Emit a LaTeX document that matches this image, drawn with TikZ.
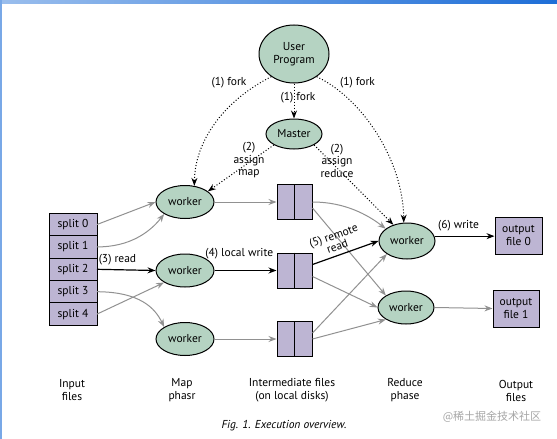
\documentclass[tikz,border=0pt]{standalone}
\usepackage{fontspec}
\setmainfont{PT Sans}
\newfontfamily\cjkfont{Noto Sans CJK SC}
\usetikzlibrary{shapes.geometric,positioning,arrows.meta}

\definecolor{procgreen}{RGB}{181,211,194}
\definecolor{filepurple}{RGB}{189,181,211}
\definecolor{flowgray}{RGB}{145,145,145}
\definecolor{winblue}{RGB}{30,110,215}

\tikzset{
  proc/.style={ellipse, draw, line width=1pt, fill=procgreen, inner sep=0pt, align=center},
  splitbox/.style={draw, line width=1pt, fill=filepurple, minimum width=48pt, minimum height=22.4pt, inner sep=0pt, outer sep=0pt},
  diskbox/.style={draw, line width=1pt, fill=filepurple, minimum width=35pt, minimum height=35pt, inner sep=0pt},
  outbox/.style={draw, line width=1pt, fill=filepurple, align=center, inner sep=0pt},
  lbl/.style={align=center, inner sep=0pt},
  flow/.style={-{Stealth[length=8pt,width=6pt]}, line width=1pt, flowgray},
  ctrl/.style={-{Stealth[length=8pt,width=6pt]}, line width=1.2pt, black},
  fork/.style={-{Stealth[length=8pt,width=6pt]}, line width=1pt, dotted},
}

\begin{document}
\begin{tikzpicture}[x=1pt, y=-1pt, font=\fontsize{11.5}{13}\selectfont]
  \useasboundingbox (0,0) rectangle (557,439);
  \fill[white] (0,0) rectangle (557,439);
  \shade[left color=winblue!45, right color=winblue] (0,0) rectangle (557,3);
  \fill[winblue!60] (0,0) rectangle (2,439);

  % control
  \node[proc, minimum width=70pt, minimum height=58pt] (user) at (294,54) {User\\Program};
  \node[proc, minimum width=56pt, minimum height=30pt] (master) at (294,134) {Master};

  % input splits
  \node[splitbox] (s0) at (73,224.5) {split 0};
  \node[splitbox, below=0pt of s0] (s1) {split 1};
  \node[splitbox, below=0pt of s1] (s2) {split 2};
  \node[splitbox, below=0pt of s2] (s3) {split 3};
  \node[splitbox, below=0pt of s3] (s4) {split 4};

  % map workers
  \node[proc, minimum width=58pt, minimum height=33pt] (map1) at (185,202) {worker};
  \node[proc, minimum width=58pt, minimum height=33pt] (map2) at (185,270.5) {worker};
  \node[proc, minimum width=58pt, minimum height=33pt] (map3) at (185,339) {worker};

  % intermediate files
  \node[diskbox] (d1) at (294.5,202) {};
  \node[diskbox] (d2) at (294.5,270.5) {};
  \node[diskbox] (d3) at (294.5,339) {};
  \draw[line width=1pt] (d1.north) -- (d1.south);
  \draw[line width=1pt] (d2.north) -- (d2.south);
  \draw[line width=1pt] (d3.north) -- (d3.south);

  % reduce workers and output
  \node[proc, minimum width=56pt, minimum height=36pt] (red1) at (407,241) {worker};
  \node[proc, minimum width=56pt, minimum height=33pt] (red2) at (406,307.5) {worker};
  \node[outbox, minimum width=47pt, minimum height=37pt] (out0) at (518.5,235.5) {output\\file 0};
  \node[outbox, minimum width=46pt, minimum height=37pt] (out1) at (516,308.5) {output\\file 1};

  % reading the splits
  \draw[flow] (s0.east) -- (map1.west);
  \draw[flow] (s1.east) .. controls (130,247) and (150,232) .. (map1.south west);
  \draw[ctrl] (s2.east) -- (map2.west) node[pos=0.35, above=1pt] {(3) read};
  \draw[flow] (s3.east) .. controls (140,292) and (155,308) .. (map3.north west);
  \draw[flow] (s4.east) -- (map2.south west);

  % local writes
  \draw[flow] (map1.east) -- (d1.west);
  \draw[ctrl] (map2.east) -- (d2.west) node[pos=0.4, above=8pt] {(4) local write};
  \draw[flow] (map3.east) -- (d3.west);

  % remote reads
  \draw[flow] (d1.east) .. controls (345,202) and (368,215) .. (red1.150);
  \draw[flow] ([yshift=-6pt]d1.east) -- (red2.north west);
  \draw[ctrl] ([yshift=6pt]d2.east) -- (red1.west)
    node[pos=0.42, above=1pt, sloped, align=center, font=\fontsize{11.5}{11}\selectfont] {(5) remote\\read};
  \draw[flow] ([yshift=-6pt]d2.east) -- (red2.west);
  \draw[flow] ([yshift=6pt]d3.east) -- (red1.south west);
  \draw[flow] (d3.east) -- (red2.south west);

  % output writes
  \draw[ctrl] (red1.10) -- (red1.10 -| out0.west) node[pos=0.4, above=1pt] {(6) write};
  \draw[flow] (red2.east) -- (out1.west);

  % fork and assign
  \draw[fork] (user.south) -- (master.north) node[pos=0.4, xshift=4pt] {(1) fork};
  \draw[fork] (user.225) .. controls (225,100) and (195,140) .. (map1.60);
  \draw[fork] (user.-45) .. controls (362,98) and (403,160) .. (red1.100);
  \node[lbl] (forkl) at (229,83) {(1) fork};
  \node[lbl] (forkr) at (357.5,83) {(1) fork};
  \draw[fork] (master.south west) -- (map1.25);
  \draw[fork] (master.south east) -- (red1.130);
  \node[lbl, font=\fontsize{11.5}{12.5}\selectfont] (amap) at (249,160.5) {(2)\\assign\\map};
  \node[lbl, font=\fontsize{11.5}{12.5}\selectfont] (ared) at (337,160.5) {(2)\\assign\\reduce};

  % phase labels
  \node[lbl] (inlbl) at (72,390.5) {Input\\files};
  \node[lbl] (maplbl) at (182,390.5) {Map\\phasr};
  \node[lbl] (midlbl) at (292,390.5) {Intermediate files\\(on local disks)};
  \node[lbl] (redlbl) at (405,390.5) {Reduce\\phase};
  \node[lbl] (outlbl) at (516,390.5) {Output\\files};

  \node[lbl, font=\itshape\fontsize{11.5}{12}\selectfont] (caption) at (284,426) {Fig. 1. Execution overview.};
  \node[lbl, text=black!35, font=\cjkfont\fontsize{11}{12}\selectfont] (mark) at (492,417) {@稀土掘金技术社区};
\end{tikzpicture}
\end{document}
